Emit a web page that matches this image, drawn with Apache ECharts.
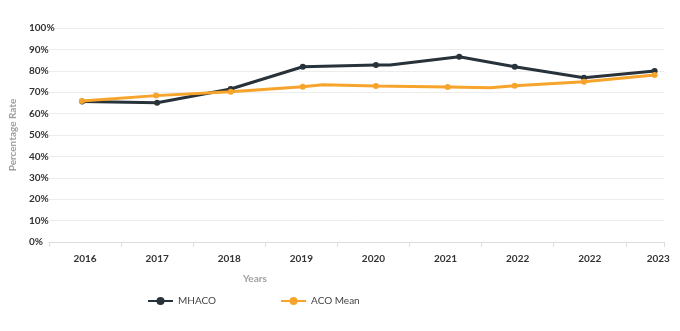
<!DOCTYPE html>
<html><head><meta charset="utf-8">
<script src="https://cdn.jsdelivr.net/npm/echarts@6/dist/echarts.min.js"></script>
<style>html,body{margin:0;padding:0;background:#fff}#c{width:680px;height:331px}</style>
</head><body><div id="c"></div>
<script>
var years = ['2016','2017','2018','2019','2020','2021','2022','2022','2023'];
// label positions along the year axis (band units)
var yearPos = [0.5, 1.5, 2.5, 3.5, 4.5, 5.5, 6.5, 7.5, 8.45];
var yTicks = [0,10,20,30,40,50,60,70,80,90,100];
// positions along the year axis (in year-band units) and values (%)
var mhacoX = [0.46, 1.50, 2.52, 3.52, 4.535, 4.73, 5.69, 6.46, 7.42, 8.40];
var mhacoY = [65.7, 65.1, 71.5, 81.9, 82.7, 82.7, 86.6, 81.9, 76.8, 79.9];
var mhacoMarked = [1,1,1,1,1,0,1,1,1,1];
var acoX = [0.455, 1.485, 2.52, 3.52, 3.80, 4.535, 5.53, 6.12, 6.46, 7.42, 8.40];
var acoY = [65.9, 68.4, 70.2, 72.6, 73.5, 72.9, 72.4, 72.1, 73.0, 74.9, 78.0];
var acoMarked = [1,1,1,1,0,1,1,0,1,1,1];

function pts(xs, ys, marks){
  return xs.map(function(x,i){
    var d = {value:[x, ys[i]]};
    if(!marks[i]) d.symbol = 'none';
    return d;
  });
}
var FONT = 'Lato';
var chart = echarts.init(document.getElementById('c'));
chart.setOption({
  animation:false,
  textStyle:{fontFamily:FONT},
  grid:{left:49, right:16, top:28, bottom:89},
  xAxis:{type:'value', min:0, max:8.53, interval:1,
     axisLine:{show:true, lineStyle:{color:'#dddddd', width:1}},
     axisTick:{show:true, length:5, lineStyle:{color:'#dddddd'}},
     axisLabel:{show:true, customValues:yearPos, color:'#333', fontSize:10, fontWeight:'bold', margin:12, fontFamily:FONT,
       showMinLabel:true, showMaxLabel:true,
       formatter:function(v){ var i = yearPos.indexOf(v); return i>=0 ? years[i] : ''; }},
     splitLine:{show:false}},
  yAxis:{type:'value', min:yTicks[0], max:yTicks[yTicks.length-1], interval:10,
     name:'Percentage Rate', nameLocation:'middle', nameGap:21, nameRotate:90,
     nameTextStyle:{color:'#a0a0a0', fontSize:10, fontWeight:'bold', fontFamily:FONT},
     axisLine:{show:false}, axisTick:{show:false},
     axisLabel:{formatter:'{value}%', color:'#333', fontSize:10, fontWeight:'bold', align:'left', margin:20, fontFamily:FONT},
     splitLine:{lineStyle:{color:'#ececec', width:1}}},
  legend:{
    left:142, top:291, itemGap:64, itemWidth:25, itemHeight:10,
    textStyle:{color:'#444', fontSize:10, fontFamily:FONT},
    data:['MHACO','ACO Mean']
  },
  graphic:[{type:'text', left:243, top:274, style:{text:'Years', fill:'#a0a0a0', font:'bold 10px '+FONT}}],
  series:[
    {name:'MHACO', type:'line',
     data:pts(mhacoX, mhacoY, mhacoMarked),
     symbol:'circle', symbolSize:6, showAllSymbol:true,
     lineStyle:{color:'#27323a', width:3}, itemStyle:{color:'#27323a'}, z:3},
    {name:'ACO Mean', type:'line',
     data:pts(acoX, acoY, acoMarked),
     symbol:'circle', symbolSize:6, showAllSymbol:true,
     lineStyle:{color:'#f6a42b', width:3}, itemStyle:{color:'#f6a42b'}, z:4}
  ]
});
</script></body></html>
